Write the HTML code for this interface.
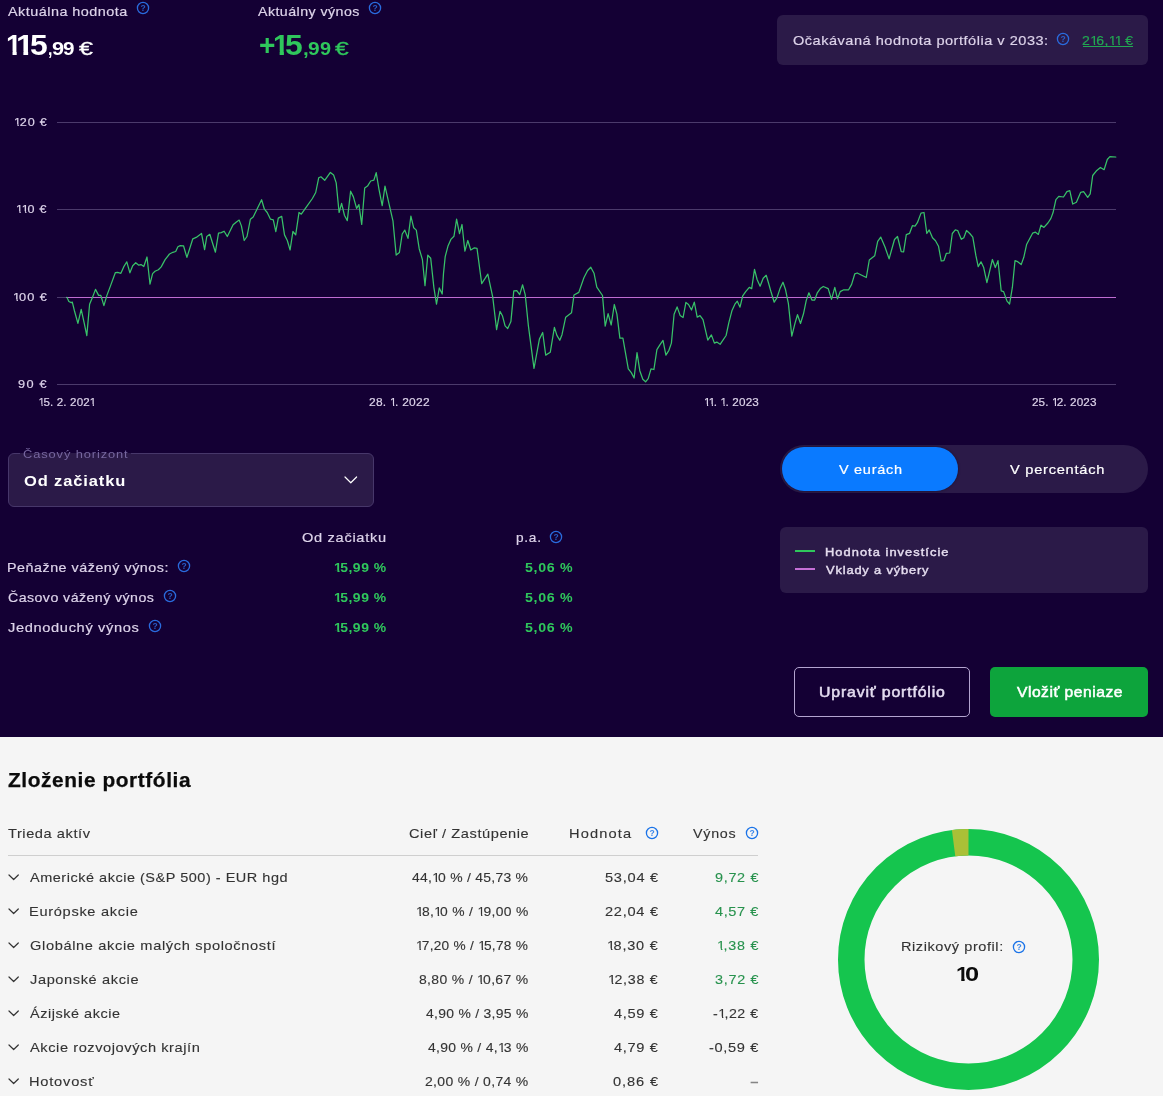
<!DOCTYPE html><html lang="sk"><head><meta charset="utf-8"><title>Portfólio</title><style>
html,body{margin:0;padding:0}
body{width:1163px;height:1096px;position:relative;overflow:hidden;background:#140034;font-family:"Liberation Sans", sans-serif;}
.t{position:absolute;white-space:nowrap;line-height:1;margin:0;padding:0}
.b{position:absolute;box-sizing:border-box}
.ic{position:absolute;overflow:visible}
.mk{display:inline-block;width:0;height:0}
.g{position:absolute;left:0;top:0;font-size:0;line-height:0;white-space:nowrap}
.t.q{position:relative;display:inline-block;width:0;line-height:1}
.o,.ob{display:inline-block;margin-right:-.156em}
.o{clip-path:polygon(0 0,62.2% 0,62.2% 100%,44.3% 100%,44.3% 72%,0 72%)}
.ob{clip-path:polygon(0 0,67.7% 0,67.7% 100%,41.2% 100%,41.2% 72%,0 72%)}

</style></head><body>
<div class="b" style="left:777px;top:15px;width:371px;height:50px;background:#2b1a48;border-radius:6px"></div>
<div class="b" style="left:1082.7px;top:46px;width:50.3px;height:1px;background:#22a852"></div>
<svg class="ic" style="left:0;top:0" width="1163" height="430" viewBox="0 0 1163 430"><rect x="57" y="122" width="1059" height="1" fill="#4b3a6b"/><rect x="57" y="209" width="1059" height="1" fill="#4b3a6b"/><rect x="57" y="297" width="1059" height="1" fill="#4b3a6b"/><rect x="57" y="384" width="1059" height="1" fill="#4b3a6b"/><rect x="66" y="297" width="1050" height="1" fill="#bf6cd2"/><path d="M66.9,297.3 L68.9,301.5 L71.2,302.6 L72.3,302.1 L74.5,311.0 L77.9,323.3 L81.2,309.3 L84.0,322.2 L86.8,335.6 L89.6,304.3 L92.4,297.6 L95.5,289.4 L98.6,295.4 L100.8,295.4 L103.9,305.6 L106.9,295.4 L110.3,286.4 L115.3,272.7 L117.6,272.4 L120.9,273.3 L123.7,266.9 L126.8,261.8 L129.9,272.8 L132.7,265.7 L135.7,262.7 L138.8,265.2 L141.0,264.6 L143.8,266.5 L147.0,257.0 L150.0,284.2 L152.6,273.6 L155.0,271.3 L158.4,269.7 L161.2,266.9 L165.1,259.6 L169.5,254.0 L172.9,252.3 L175.7,251.5 L177.9,246.7 L180.2,245.6 L183.5,245.8 L186.9,257.4 L192.8,238.8 L196.2,237.4 L201.5,233.4 L204.6,249.7 L206.8,236.5 L209.8,234.3 L215.4,252.2 L218.5,233.2 L221.3,232.6 L224.1,231.2 L227.3,236.5 L233.1,224.8 L236.4,222.0 L239.2,220.1 L241.4,225.9 L244.2,240.5 L247.0,236.5 L250.4,219.2 L253.2,217.0 L256.5,210.3 L261.6,199.7 L264.4,209.2 L267.2,212.5 L270.5,219.2 L273.3,219.8 L275.8,231.7 L278.3,218.1 L281.7,216.4 L284.5,234.9 L287.3,240.5 L290.1,250.0 L292.9,231.5 L295.7,234.9 L299.0,212.5 L301.3,214.2 L305.2,208.6 L312.4,198.5 L315.7,192.5 L318.7,177.8 L320.9,176.8 L324.7,180.3 L330.4,172.4 L333.6,175.0 L336.2,182.9 L339.1,212.5 L341.6,203.3 L344.5,215.5 L347.3,220.6 L350.6,191.2 L353.4,196.9 L356.6,208.4 L358.9,204.6 L361.7,224.4 L364.7,188.0 L367.5,186.1 L370.7,181.0 L373.9,180.1 L376.2,172.7 L379.0,189.3 L382.2,205.6 L385.0,186.1 L389.2,204.6 L393.0,221.2 L396.2,255.1 L399.4,252.5 L402.2,234.0 L404.8,230.1 L408.0,238.4 L410.9,216.1 L413.7,227.8 L416.3,230.1 L419.2,248.7 L422.4,259.5 L425.0,285.7 L427.8,255.1 L430.7,258.2 L433.9,287.6 L436.5,304.2 L439.3,287.9 L442.2,294.0 L443.5,273.4 L445.2,256.6 L448.1,245.7 L451.1,239.1 L454.0,236.2 L456.6,219.1 L459.5,233.7 L462.0,224.5 L464.9,251.2 L467.8,240.5 L470.8,250.0 L474.4,247.8 L477.0,248.3 L481.7,283.6 L484.6,279.2 L487.8,274.1 L492.7,296.8 L496.6,329.6 L500.0,311.4 L502.4,315.7 L505.1,325.9 L507.7,328.6 L510.9,321.6 L513.8,290.9 L516.8,290.6 L519.7,294.6 L522.6,284.8 L525.2,294.6 L528.4,325.9 L534.0,368.3 L539.4,339.1 L542.7,332.5 L545.7,355.1 L550.3,352.2 L554.4,327.4 L556.9,335.4 L559.8,340.3 L562.0,334.7 L565.7,317.2 L571.5,312.8 L574.0,295.0 L578.8,292.4 L583.9,277.8 L587.6,270.5 L590.8,267.2 L594.0,273.2 L596.8,287.1 L602.5,295.5 L605.2,326.2 L608.1,313.6 L611.2,325.0 L614.3,304.5 L616.9,314.2 L619.9,338.2 L622.9,338.2 L628.3,368.9 L631.3,372.6 L634.1,378.0 L637.0,352.7 L639.8,370.7 L642.8,379.2 L645.6,381.8 L648.2,378.6 L651.0,368.9 L653.9,369.5 L656.9,349.7 L660.2,344.3 L663.0,340.4 L665.9,355.1 L668.9,350.3 L671.4,343.1 L674.1,314.2 L677.1,306.9 L680.1,315.4 L683.1,317.5 L685.9,302.4 L688.5,304.5 L691.5,310.0 L694.3,302.1 L697.2,317.2 L700.0,315.6 L703.0,319.6 L707.8,340.1 L711.4,334.9 L714.4,343.1 L716.8,342.1 L720.1,344.3 L722.8,340.3 L726.1,335.5 L728.8,322.9 L731.9,310.8 L734.9,304.2 L737.3,301.2 L740.0,307.2 L742.7,295.8 L745.7,291.6 L749.3,287.4 L751.7,288.6 L754.5,269.3 L757.1,279.5 L760.1,286.2 L763.2,278.3 L766.2,275.3 L768.6,283.2 L771.3,292.8 L774.2,302.2 L777.0,297.6 L780.0,288.6 L783.0,282.2 L785.4,289.2 L788.4,303.6 L791.8,336.1 L795.1,322.9 L797.5,314.7 L800.5,323.5 L803.5,313.8 L806.2,300.6 L808.9,292.8 L811.9,300.0 L814.7,300.0 L817.3,292.8 L820.3,288.6 L823.3,286.5 L828.2,288.6 L831.5,299.4 L834.8,287.4 L837.5,298.8 L840.2,291.6 L843.8,289.8 L848.6,289.8 L851.6,284.4 L854.8,273.8 L857.2,273.0 L866.3,277.5 L869.3,260.0 L874.7,255.8 L877.7,241.3 L880.7,237.1 L884.9,246.8 L889.1,258.8 L894.5,239.5 L897.5,236.5 L901.2,251.6 L903.6,251.8 L906.3,234.7 L909.6,233.3 L912.4,225.7 L915.0,226.1 L917.4,222.7 L921.0,213.1 L924.0,212.5 L926.8,233.5 L929.2,229.9 L932.5,237.7 L935.5,240.7 L938.5,246.2 L941.2,261.0 L943.9,260.6 L946.3,253.4 L949.7,253.0 L952.3,233.5 L955.3,229.9 L957.7,230.5 L961.3,239.3 L963.8,237.7 L966.5,230.5 L969.8,233.5 L972.8,237.1 L975.8,255.2 L978.2,266.6 L981.0,261.8 L983.6,267.2 L986.9,282.6 L992.4,259.5 L995.3,267.5 L998.0,260.7 L1001.2,290.9 L1003.6,291.6 L1007.0,301.1 L1009.6,304.0 L1012.4,287.2 L1015.0,260.7 L1017.7,261.7 L1021.2,264.6 L1023.8,257.3 L1026.7,244.2 L1032.6,233.2 L1035.5,232.2 L1038.4,234.4 L1041.0,225.2 L1043.9,227.4 L1047.9,223.0 L1050.8,218.6 L1053.0,212.8 L1055.9,199.6 L1058.8,196.4 L1063.5,197.0 L1066.9,191.6 L1069.8,190.6 L1072.7,204.0 L1076.4,202.3 L1080.7,192.3 L1083.6,191.6 L1087.7,197.4 L1090.2,193.8 L1092.7,175.5 L1096.8,170.4 L1100.4,167.5 L1104.1,169.7 L1107.3,159.5 L1109.9,156.6 L1115.8,157.0" fill="none" stroke="#38c169" stroke-width="1.25" stroke-linejoin="round" stroke-linecap="round"/></svg>
<div class="b" style="left:8px;top:453px;width:366px;height:54px;background:#2b1a48;border:1px solid #47376a;border-radius:6px"></div>
<div class="b" style="left:20px;top:453px;width:111px;height:1px;background:#2b1a48"></div>
<svg class="ic" style="left:344.3px;top:476.3px" width="13.6" height="7.8" viewBox="-1 -1 13.6 7.8"><path d="M0,0 L5.8,5.8 L11.6,0" fill="none" stroke="#ffffff" stroke-width="1.2" stroke-linecap="round" stroke-linejoin="round"/></svg>
<div class="b" style="left:780px;top:445px;width:368px;height:48px;background:#2b1a48;border-radius:24px"></div>
<div class="b" style="left:782px;top:447px;width:176px;height:44px;background:#0a7aff;border-radius:22px;box-shadow:0 0 3px rgba(0,0,0,.4)"></div>
<div class="b" style="left:780px;top:527px;width:368px;height:66px;background:#2b1a48;border-radius:6px"></div>
<div class="b" style="left:795px;top:550px;width:20px;height:2px;background:#2fc75c"></div>
<div class="b" style="left:795px;top:568px;width:20px;height:2px;background:#c56fd6"></div>
<div class="b" style="left:794px;top:667px;width:176px;height:50px;border:1px solid #b3a4cf;border-radius:5px"></div>
<div class="b" style="left:990px;top:667px;width:158px;height:50px;background:#0da43c;border-radius:5px"></div>
<div class="b" style="left:0;top:737px;width:1163px;height:359px;background:#f5f5f5"></div>
<div class="b" style="left:8px;top:854.5px;width:750px;height:1px;background:#cfcfcf"></div>
<svg class="ic" style="left:8.4px;top:874.4px" width="11.3" height="6.5" viewBox="-1 -1 11.3 6.5"><path d="M0,0 L4.65,4.5 L9.3,0" fill="none" stroke="#333333" stroke-width="1.2" stroke-linecap="round" stroke-linejoin="round"/></svg>
<svg class="ic" style="left:8.4px;top:908.4px" width="11.3" height="6.5" viewBox="-1 -1 11.3 6.5"><path d="M0,0 L4.65,4.5 L9.3,0" fill="none" stroke="#333333" stroke-width="1.2" stroke-linecap="round" stroke-linejoin="round"/></svg>
<svg class="ic" style="left:8.4px;top:942.4px" width="11.3" height="6.5" viewBox="-1 -1 11.3 6.5"><path d="M0,0 L4.65,4.5 L9.3,0" fill="none" stroke="#333333" stroke-width="1.2" stroke-linecap="round" stroke-linejoin="round"/></svg>
<svg class="ic" style="left:8.4px;top:976.4px" width="11.3" height="6.5" viewBox="-1 -1 11.3 6.5"><path d="M0,0 L4.65,4.5 L9.3,0" fill="none" stroke="#333333" stroke-width="1.2" stroke-linecap="round" stroke-linejoin="round"/></svg>
<svg class="ic" style="left:8.4px;top:1010.4px" width="11.3" height="6.5" viewBox="-1 -1 11.3 6.5"><path d="M0,0 L4.65,4.5 L9.3,0" fill="none" stroke="#333333" stroke-width="1.2" stroke-linecap="round" stroke-linejoin="round"/></svg>
<svg class="ic" style="left:8.4px;top:1044.4px" width="11.3" height="6.5" viewBox="-1 -1 11.3 6.5"><path d="M0,0 L4.65,4.5 L9.3,0" fill="none" stroke="#333333" stroke-width="1.2" stroke-linecap="round" stroke-linejoin="round"/></svg>
<svg class="ic" style="left:8.4px;top:1078.4px" width="11.3" height="6.5" viewBox="-1 -1 11.3 6.5"><path d="M0,0 L4.65,4.5 L9.3,0" fill="none" stroke="#333333" stroke-width="1.2" stroke-linecap="round" stroke-linejoin="round"/></svg>
<svg class="ic" style="left:838.0px;top:829.0px" width="261.0" height="261.0" viewBox="-130.5 -130.5 261.0 261.0"><circle cx="0" cy="0" r="117.25" fill="none" stroke="#15c54e" stroke-width="26.5"/><path d="M-14.90,-116.30 A117.25,117.25 0 0 1 0,-117.25" fill="none" stroke="#aac037" stroke-width="26.5"/></svg>
<svg class="ic" style="left:136px;top:1px" width="14" height="14" viewBox="0 0 14 14"><circle cx="7" cy="7" r="5.6" fill="none" stroke="#2a6bde" stroke-width="1.3"/><text x="7" y="10" text-anchor="middle" font-family='"Liberation Sans", sans-serif' font-size="8.5" font-weight="700" fill="#2a6bde" opacity=".85">?</text></svg>
<svg class="ic" style="left:368px;top:1px" width="14" height="14" viewBox="0 0 14 14"><circle cx="7" cy="7" r="5.6" fill="none" stroke="#2a6bde" stroke-width="1.3"/><text x="7" y="10" text-anchor="middle" font-family='"Liberation Sans", sans-serif' font-size="8.5" font-weight="700" fill="#2a6bde" opacity=".85">?</text></svg>
<svg class="ic" style="left:1056px;top:32.2px" width="14" height="14" viewBox="0 0 14 14"><circle cx="7" cy="7" r="5.6" fill="none" stroke="#2a6bde" stroke-width="1.3"/><text x="7" y="10" text-anchor="middle" font-family='"Liberation Sans", sans-serif' font-size="8.5" font-weight="700" fill="#2a6bde" opacity=".85">?</text></svg>
<svg class="ic" style="left:548.9px;top:529.5px" width="14" height="14" viewBox="0 0 14 14"><circle cx="7" cy="7" r="5.6" fill="none" stroke="#2a6bde" stroke-width="1.3"/><text x="7" y="10" text-anchor="middle" font-family='"Liberation Sans", sans-serif' font-size="8.5" font-weight="700" fill="#2a6bde" opacity=".85">?</text></svg>
<svg class="ic" style="left:176.9px;top:559.4px" width="14" height="14" viewBox="0 0 14 14"><circle cx="7" cy="7" r="5.6" fill="none" stroke="#2a6bde" stroke-width="1.3"/><text x="7" y="10" text-anchor="middle" font-family='"Liberation Sans", sans-serif' font-size="8.5" font-weight="700" fill="#2a6bde" opacity=".85">?</text></svg>
<svg class="ic" style="left:163px;top:589.4px" width="14" height="14" viewBox="0 0 14 14"><circle cx="7" cy="7" r="5.6" fill="none" stroke="#2a6bde" stroke-width="1.3"/><text x="7" y="10" text-anchor="middle" font-family='"Liberation Sans", sans-serif' font-size="8.5" font-weight="700" fill="#2a6bde" opacity=".85">?</text></svg>
<svg class="ic" style="left:148px;top:619.3px" width="14" height="14" viewBox="0 0 14 14"><circle cx="7" cy="7" r="5.6" fill="none" stroke="#2a6bde" stroke-width="1.3"/><text x="7" y="10" text-anchor="middle" font-family='"Liberation Sans", sans-serif' font-size="8.5" font-weight="700" fill="#2a6bde" opacity=".85">?</text></svg>
<svg class="ic" style="left:644.9px;top:825.5px" width="14" height="14" viewBox="0 0 14 14"><circle cx="7" cy="7" r="5.6" fill="none" stroke="#1a73e8" stroke-width="1.3"/><text x="7" y="10" text-anchor="middle" font-family='"Liberation Sans", sans-serif' font-size="8.5" font-weight="700" fill="#1a73e8" opacity=".85">?</text></svg>
<svg class="ic" style="left:744.8px;top:825.5px" width="14" height="14" viewBox="0 0 14 14"><circle cx="7" cy="7" r="5.6" fill="none" stroke="#1a73e8" stroke-width="1.3"/><text x="7" y="10" text-anchor="middle" font-family='"Liberation Sans", sans-serif' font-size="8.5" font-weight="700" fill="#1a73e8" opacity=".85">?</text></svg>
<svg class="ic" style="left:1012px;top:939.8px" width="14" height="14" viewBox="0 0 14 14"><circle cx="7" cy="7" r="5.6" fill="none" stroke="#1a73e8" stroke-width="1.3"/><text x="7" y="10" text-anchor="middle" font-family='"Liberation Sans", sans-serif' font-size="8.5" font-weight="700" fill="#1a73e8" opacity=".85">?</text></svg>
<div class="t" style="left:8.00px;top:5.02px;font-size:13.3px;font-weight:400;color:#ddd3ea;letter-spacing:0.437px;-webkit-text-stroke:0.2px #ddd3ea;transform:scaleX(1.0839);transform-origin:0 0;">Aktuálna hodnota</div>
<div class="g"><span class="t q" style="left:5.77px;top:30.02px;font-size:30px;font-weight:700;color:#ffffff;transform:scaleX(0.9472);transform-origin:0 0;"><span class="ob">1</span></span><span class="t q" style="left:16.41px;top:30.02px;font-size:30px;font-weight:700;color:#ffffff;transform:scaleX(1.0747);transform-origin:0 0;"><span class="ob">1</span></span><span class="t q" style="left:30.16px;top:30.02px;font-size:30px;font-weight:700;color:#ffffff;transform:scaleX(1.0612);transform-origin:0 0;">5</span><span class="t q" style="left:48.12px;top:30.02px;font-size:18.5px;font-weight:700;color:#ffffff;transform:scaleX(0.8568);transform-origin:0 0;">,</span><span class="t q" style="left:52.15px;top:30.02px;font-size:18.5px;font-weight:700;color:#ffffff;transform:scaleX(1.1751);transform-origin:0 0;">9</span><span class="t q" style="left:63.40px;top:30.02px;font-size:18.5px;font-weight:700;color:#ffffff;transform:scaleX(1.1171);transform-origin:0 0;">9</span> <span class="t q" style="left:78.93px;top:30.02px;font-size:18.5px;font-weight:400;color:#ffffff;-webkit-text-stroke:0.3px #ffffff;transform:scaleX(1.3545);transform-origin:0 0;">€</span></div>
<div class="t" style="left:257.88px;top:5.02px;font-size:13.3px;font-weight:400;color:#ddd3ea;letter-spacing:0.415px;-webkit-text-stroke:0.2px #ddd3ea;transform:scaleX(1.0693);transform-origin:0 0;">Aktuálny výnos</div>
<div class="g"><span class="t q" style="left:258.92px;top:30.02px;font-size:30px;font-weight:700;color:#2fc75c;transform:scaleX(0.9361);transform-origin:0 0;">+</span><span class="t q" style="left:273.10px;top:30.02px;font-size:30px;font-weight:700;color:#2fc75c;transform:scaleX(0.9646);transform-origin:0 0;"><span class="ob">1</span></span><span class="t q" style="left:285.12px;top:30.02px;font-size:30px;font-weight:700;color:#2fc75c;transform:scaleX(1.0612);transform-origin:0 0;">5</span><span class="t q" style="left:303.19px;top:30.02px;font-size:18.5px;font-weight:700;color:#2fc75c;transform:scaleX(1.1152);transform-origin:0 0;">,</span><span class="t q" style="left:307.82px;top:30.02px;font-size:18.5px;font-weight:700;color:#2fc75c;transform:scaleX(1.1304);transform-origin:0 0;">9</span><span class="t q" style="left:320.00px;top:30.02px;font-size:18.5px;font-weight:700;color:#2fc75c;transform:scaleX(1.0737);transform-origin:0 0;">9</span> <span class="t q" style="left:334.70px;top:30.02px;font-size:18.5px;font-weight:400;color:#2fc75c;-webkit-text-stroke:0.3px #2fc75c;transform:scaleX(1.3332);transform-origin:0 0;">€</span></div>
<div class="t" style="left:792.62px;top:34.02px;font-size:13.3px;font-weight:400;color:#ddd3ea;letter-spacing:0.477px;-webkit-text-stroke:0.2px #ddd3ea;transform:scaleX(1.0923);transform-origin:0 0;">Očakávaná hodnota portfólia v 2033:</div>
<div class="t" style="left:1082.07px;top:34.02px;font-size:13.3px;font-weight:400;color:#22a852;letter-spacing:0.378px;-webkit-text-stroke:0.2px #22a852;transform:scaleX(1.0564);transform-origin:0 0;">2<span class="o">1</span>6,<span class="o">1</span><span class="o">1</span> €</div>
<div class="t" style="left:14.23px;top:116.02px;font-size:11.6px;font-weight:400;color:#ddd3ea;letter-spacing:0.731px;-webkit-text-stroke:0.2px #ddd3ea;transform:scaleX(1.0861);transform-origin:0 0;"><span class="o">1</span>20 €</div>
<div class="t" style="left:16.47px;top:203.02px;font-size:11.6px;font-weight:400;color:#ddd3ea;letter-spacing:0.691px;-webkit-text-stroke:0.2px #ddd3ea;transform:scaleX(1.0792);transform-origin:0 0;"><span class="o">1</span><span class="o">1</span>0 €</div>
<div class="t" style="left:12.72px;top:291.02px;font-size:11.6px;font-weight:400;color:#ddd3ea;letter-spacing:0.877px;-webkit-text-stroke:0.2px #ddd3ea;transform:scaleX(1.1000);transform-origin:0 0;"><span class="o">1</span>00 €</div>
<div class="t" style="left:18.34px;top:378.02px;font-size:11.6px;font-weight:400;color:#ddd3ea;letter-spacing:1.174px;-webkit-text-stroke:0.2px #ddd3ea;transform:scaleX(1.1000);transform-origin:0 0;">90 €</div>
<div class="t" style="left:38.58px;top:396.02px;font-size:11.6px;font-weight:400;color:#ddd3ea;letter-spacing:0.146px;-webkit-text-stroke:0.2px #ddd3ea;"><span class="o">1</span>5. 2. 202<span class="o">1</span></div>
<div class="t" style="left:368.92px;top:396.02px;font-size:11.6px;font-weight:400;color:#ddd3ea;letter-spacing:0.244px;-webkit-text-stroke:0.2px #ddd3ea;transform:scaleX(1.0319);transform-origin:0 0;">28. <span class="o">1</span>. 2022</div>
<div class="t" style="left:704.10px;top:396.02px;font-size:11.6px;font-weight:400;color:#ddd3ea;letter-spacing:0.170px;-webkit-text-stroke:0.2px #ddd3ea;transform:scaleX(1.0088);transform-origin:0 0;"><span class="o">1</span><span class="o">1</span>. <span class="o">1</span>. 2023</div>
<div class="t" style="left:1031.86px;top:396.02px;font-size:11.6px;font-weight:400;color:#ddd3ea;letter-spacing:0.097px;-webkit-text-stroke:0.2px #ddd3ea;transform:scaleX(1.0106);transform-origin:0 0;">25. <span class="o">1</span>2. 2023</div>
<div class="t" style="left:23.17px;top:448.02px;font-size:11.7px;font-weight:400;color:#7767a0;letter-spacing:0.809px;transform:scaleX(1.1000);transform-origin:0 0;">Časový horizont</div>
<div class="t" style="left:23.81px;top:473.02px;font-size:15px;font-weight:700;color:#ffffff;letter-spacing:0.796px;transform:scaleX(1.1000);transform-origin:0 0;">Od začiatku</div>
<div class="t" style="left:302.28px;top:531.02px;font-size:13.3px;font-weight:400;color:#ddd3ea;letter-spacing:0.643px;-webkit-text-stroke:0.2px #ddd3ea;transform:scaleX(1.0962);transform-origin:0 0;">Od začiatku</div>
<div class="t" style="left:516.25px;top:531.02px;font-size:13.3px;font-weight:400;color:#ddd3ea;letter-spacing:0.727px;-webkit-text-stroke:0.2px #ddd3ea;transform:scaleX(1.0251);transform-origin:0 0;">p.a.</div>
<div class="t" style="left:7.05px;top:561.02px;font-size:13.3px;font-weight:400;color:#ddd3ea;letter-spacing:0.496px;-webkit-text-stroke:0.2px #ddd3ea;transform:scaleX(1.0734);transform-origin:0 0;">Peňažne vážený výnos:</div>
<div class="t" style="left:333.74px;top:561.02px;font-size:13.3px;font-weight:700;color:#2fc75c;letter-spacing:0.525px;transform:scaleX(1.0476);transform-origin:0 0;"><span class="ob">1</span>5,99 %</div>
<div class="t" style="left:524.90px;top:561.02px;font-size:13.3px;font-weight:700;color:#2fc75c;letter-spacing:0.639px;transform:scaleX(1.0677);transform-origin:0 0;">5,06 %</div>
<div class="t" style="left:7.67px;top:591.02px;font-size:13.3px;font-weight:400;color:#ddd3ea;letter-spacing:0.412px;-webkit-text-stroke:0.2px #ddd3ea;transform:scaleX(1.0666);transform-origin:0 0;">Časovo vážený výnos</div>
<div class="t" style="left:333.74px;top:591.02px;font-size:13.3px;font-weight:700;color:#2fc75c;letter-spacing:0.525px;transform:scaleX(1.0476);transform-origin:0 0;"><span class="ob">1</span>5,99 %</div>
<div class="t" style="left:524.90px;top:591.02px;font-size:13.3px;font-weight:700;color:#2fc75c;letter-spacing:0.639px;transform:scaleX(1.0677);transform-origin:0 0;">5,06 %</div>
<div class="t" style="left:7.86px;top:621.02px;font-size:13.3px;font-weight:400;color:#ddd3ea;letter-spacing:0.595px;-webkit-text-stroke:0.2px #ddd3ea;transform:scaleX(1.0991);transform-origin:0 0;">Jednoduchý výnos</div>
<div class="t" style="left:333.74px;top:621.02px;font-size:13.3px;font-weight:700;color:#2fc75c;letter-spacing:0.525px;transform:scaleX(1.0476);transform-origin:0 0;"><span class="ob">1</span>5,99 %</div>
<div class="t" style="left:524.90px;top:621.02px;font-size:13.3px;font-weight:700;color:#2fc75c;letter-spacing:0.639px;transform:scaleX(1.0677);transform-origin:0 0;">5,06 %</div>
<div class="t" style="left:838.96px;top:463.02px;font-size:13.3px;font-weight:400;color:#ffffff;letter-spacing:0.642px;-webkit-text-stroke:0.2px #ffffff;transform:scaleX(1.0906);transform-origin:0 0;">V eurách</div>
<div class="t" style="left:1010.49px;top:463.02px;font-size:13.3px;font-weight:400;color:#ffffff;letter-spacing:0.676px;-webkit-text-stroke:0.2px #ffffff;transform:scaleX(1.1000);transform-origin:0 0;">V percentách</div>
<div class="t" style="left:824.60px;top:546.02px;font-size:11.7px;font-weight:400;color:#e6def0;letter-spacing:0.944px;-webkit-text-stroke:0.4px #e6def0;transform:scaleX(1.1000);transform-origin:0 0;">Hodnota investície</div>
<div class="t" style="left:825.64px;top:564.02px;font-size:11.7px;font-weight:400;color:#e6def0;letter-spacing:0.765px;-webkit-text-stroke:0.4px #e6def0;transform:scaleX(1.1000);transform-origin:0 0;">Vklady a výbery</div>
<div class="t" style="left:819.04px;top:685.02px;font-size:14.4px;font-weight:400;color:#e4dcf0;letter-spacing:0.764px;-webkit-text-stroke:0.5px #e4dcf0;transform:scaleX(1.1000);transform-origin:0 0;">Upraviť portfólio</div>
<div class="t" style="left:1016.50px;top:685.02px;font-size:14.4px;font-weight:400;color:#ffffff;letter-spacing:0.459px;-webkit-text-stroke:0.5px #ffffff;transform:scaleX(1.0870);transform-origin:0 0;">Vložiť peniaze</div>
<div class="t" style="left:8.16px;top:771.02px;font-size:19.4px;font-weight:700;color:#0b0b0b;letter-spacing:0.544px;-webkit-text-stroke:0.25px #0b0b0b;transform:scaleX(1.0750);transform-origin:0 0;">Zloženie portfólia</div>
<div class="t" style="left:8.32px;top:827.02px;font-size:13.3px;font-weight:400;color:#333333;letter-spacing:0.503px;-webkit-text-stroke:0.12px #333333;transform:scaleX(1.0998);transform-origin:0 0;">Trieda aktív</div>
<div class="t" style="left:408.59px;top:827.02px;font-size:13.3px;font-weight:400;color:#333333;letter-spacing:0.520px;-webkit-text-stroke:0.12px #333333;transform:scaleX(1.0983);transform-origin:0 0;">Cieľ / Zastúpenie</div>
<div class="t" style="left:569.42px;top:827.02px;font-size:13.3px;font-weight:400;color:#333333;letter-spacing:1.048px;-webkit-text-stroke:0.12px #333333;transform:scaleX(1.1000);transform-origin:0 0;">Hodnota</div>
<div class="t" style="left:693.19px;top:827.02px;font-size:13.3px;font-weight:400;color:#333333;letter-spacing:0.686px;-webkit-text-stroke:0.12px #333333;transform:scaleX(1.0734);transform-origin:0 0;">Výnos</div>
<div class="t" style="left:30.28px;top:871.02px;font-size:13.3px;font-weight:400;color:#333333;letter-spacing:0.477px;-webkit-text-stroke:0.12px #333333;transform:scaleX(1.0892);transform-origin:0 0;">Americké akcie (S&amp;P 500) - EUR hgd</div>
<div class="t" style="left:411.80px;top:871.02px;font-size:13.3px;font-weight:400;color:#333333;letter-spacing:0.251px;-webkit-text-stroke:0.12px #333333;transform:scaleX(1.0483);transform-origin:0 0;">44,<span class="o">1</span>0 % / 45,73 %</div>
<div class="t" style="left:604.97px;top:871.02px;font-size:13.3px;font-weight:400;color:#333333;letter-spacing:0.675px;-webkit-text-stroke:0.12px #333333;transform:scaleX(1.0982);transform-origin:0 0;">53,04 €</div>
<div class="t" style="left:715.08px;top:871.02px;font-size:13.3px;font-weight:400;color:#27924d;letter-spacing:0.644px;-webkit-text-stroke:0.12px #27924d;transform:scaleX(1.0835);transform-origin:0 0;">9,72 €</div>
<div class="t" style="left:28.80px;top:905.02px;font-size:13.3px;font-weight:400;color:#333333;letter-spacing:0.630px;-webkit-text-stroke:0.12px #333333;transform:scaleX(1.0973);transform-origin:0 0;">Európske akcie</div>
<div class="t" style="left:416.35px;top:905.02px;font-size:13.3px;font-weight:400;color:#333333;letter-spacing:0.324px;-webkit-text-stroke:0.12px #333333;transform:scaleX(1.0417);transform-origin:0 0;"><span class="o">1</span>8,<span class="o">1</span>0 % / <span class="o">1</span>9,00 %</div>
<div class="t" style="left:605.09px;top:905.02px;font-size:13.3px;font-weight:400;color:#333333;letter-spacing:0.658px;-webkit-text-stroke:0.12px #333333;transform:scaleX(1.0982);transform-origin:0 0;">22,04 €</div>
<div class="t" style="left:714.60px;top:905.02px;font-size:13.3px;font-weight:400;color:#27924d;letter-spacing:0.520px;-webkit-text-stroke:0.12px #27924d;transform:scaleX(1.0939);transform-origin:0 0;">4,57 €</div>
<div class="t" style="left:29.88px;top:939.02px;font-size:13.3px;font-weight:400;color:#333333;letter-spacing:0.577px;-webkit-text-stroke:0.12px #333333;transform:scaleX(1.1000);transform-origin:0 0;">Globálne akcie malých spoločností</div>
<div class="t" style="left:416.04px;top:939.02px;font-size:13.3px;font-weight:400;color:#333333;letter-spacing:0.264px;-webkit-text-stroke:0.12px #333333;transform:scaleX(1.0285);transform-origin:0 0;"><span class="o">1</span>7,20 % / <span class="o">1</span>5,78 %</div>
<div class="t" style="left:607.38px;top:939.02px;font-size:13.3px;font-weight:400;color:#333333;letter-spacing:0.709px;-webkit-text-stroke:0.12px #333333;transform:scaleX(1.0906);transform-origin:0 0;"><span class="o">1</span>8,30 €</div>
<div class="t" style="left:716.57px;top:939.02px;font-size:13.3px;font-weight:400;color:#27924d;letter-spacing:0.727px;-webkit-text-stroke:0.12px #27924d;transform:scaleX(1.0784);transform-origin:0 0;"><span class="o">1</span>,38 €</div>
<div class="t" style="left:29.96px;top:973.02px;font-size:13.3px;font-weight:400;color:#333333;letter-spacing:0.569px;-webkit-text-stroke:0.12px #333333;transform:scaleX(1.0956);transform-origin:0 0;">Japonské akcie</div>
<div class="t" style="left:418.70px;top:973.02px;font-size:13.3px;font-weight:400;color:#333333;letter-spacing:0.315px;-webkit-text-stroke:0.12px #333333;transform:scaleX(1.0502);transform-origin:0 0;">8,80 % / <span class="o">1</span>0,67 %</div>
<div class="t" style="left:607.94px;top:973.02px;font-size:13.3px;font-weight:400;color:#333333;letter-spacing:0.666px;-webkit-text-stroke:0.12px #333333;transform:scaleX(1.0724);transform-origin:0 0;"><span class="o">1</span>2,38 €</div>
<div class="t" style="left:715.02px;top:973.02px;font-size:13.3px;font-weight:400;color:#27924d;letter-spacing:0.656px;-webkit-text-stroke:0.12px #27924d;transform:scaleX(1.0835);transform-origin:0 0;">3,72 €</div>
<div class="t" style="left:30.29px;top:1007.02px;font-size:13.3px;font-weight:400;color:#333333;letter-spacing:0.483px;-webkit-text-stroke:0.12px #333333;transform:scaleX(1.0883);transform-origin:0 0;">Ázijské akcie</div>
<div class="t" style="left:425.63px;top:1007.02px;font-size:13.3px;font-weight:400;color:#333333;letter-spacing:0.281px;-webkit-text-stroke:0.12px #333333;transform:scaleX(1.0469);transform-origin:0 0;">4,90 % / 3,95 %</div>
<div class="t" style="left:613.70px;top:1007.02px;font-size:13.3px;font-weight:400;color:#333333;letter-spacing:0.585px;-webkit-text-stroke:0.12px #333333;transform:scaleX(1.1000);transform-origin:0 0;">4,59 €</div>
<div class="t" style="left:713.04px;top:1007.02px;font-size:13.3px;font-weight:400;color:#333333;letter-spacing:0.469px;-webkit-text-stroke:0.12px #333333;transform:scaleX(1.0690);transform-origin:0 0;">-<span class="o">1</span>,22 €</div>
<div class="t" style="left:30.29px;top:1041.02px;font-size:13.3px;font-weight:400;color:#333333;letter-spacing:0.511px;-webkit-text-stroke:0.12px #333333;transform:scaleX(1.1000);transform-origin:0 0;">Akcie rozvojových krajín</div>
<div class="t" style="left:427.63px;top:1041.02px;font-size:13.3px;font-weight:400;color:#333333;letter-spacing:0.282px;-webkit-text-stroke:0.12px #333333;transform:scaleX(1.0482);transform-origin:0 0;">4,90 % / 4,<span class="o">1</span>3 %</div>
<div class="t" style="left:613.70px;top:1041.02px;font-size:13.3px;font-weight:400;color:#333333;letter-spacing:0.585px;-webkit-text-stroke:0.12px #333333;transform:scaleX(1.1000);transform-origin:0 0;">4,79 €</div>
<div class="t" style="left:708.99px;top:1041.02px;font-size:13.3px;font-weight:400;color:#333333;letter-spacing:0.602px;-webkit-text-stroke:0.12px #333333;transform:scaleX(1.0969);transform-origin:0 0;">-0,59 €</div>
<div class="t" style="left:28.79px;top:1075.02px;font-size:13.3px;font-weight:400;color:#333333;letter-spacing:0.715px;-webkit-text-stroke:0.12px #333333;transform:scaleX(1.1000);transform-origin:0 0;">Hotovosť</div>
<div class="t" style="left:424.93px;top:1075.02px;font-size:13.3px;font-weight:400;color:#333333;letter-spacing:0.311px;-webkit-text-stroke:0.12px #333333;transform:scaleX(1.0510);transform-origin:0 0;">2,00 % / 0,74 %</div>
<div class="t" style="left:612.65px;top:1075.02px;font-size:13.3px;font-weight:400;color:#333333;letter-spacing:0.814px;-webkit-text-stroke:0.12px #333333;transform:scaleX(1.1000);transform-origin:0 0;">0,86 €</div>
<div class="t" style="left:751.20px;top:1075.02px;font-size:13.3px;font-weight:400;color:#858585;letter-spacing:0.000px;-webkit-text-stroke:0.8px #858585;transform:scaleX(0.9046);transform-origin:0 0;">–</div>
<div class="t" style="left:900.97px;top:940.02px;font-size:13.3px;font-weight:400;color:#333333;letter-spacing:0.530px;-webkit-text-stroke:0.12px #333333;transform:scaleX(1.0910);transform-origin:0 0;">Rizikový profil:</div>
<div class="g"><span class="t q" style="left:955.89px;top:965.02px;font-size:19.3px;font-weight:700;color:#0b0b0b;transform:scaleX(1.1895);transform-origin:0 0;"><span class="ob">1</span></span><span class="t q" style="left:965.36px;top:965.02px;font-size:19.3px;font-weight:700;color:#0b0b0b;transform:scaleX(1.3150);transform-origin:0 0;">0</span></div>
</body></html>
